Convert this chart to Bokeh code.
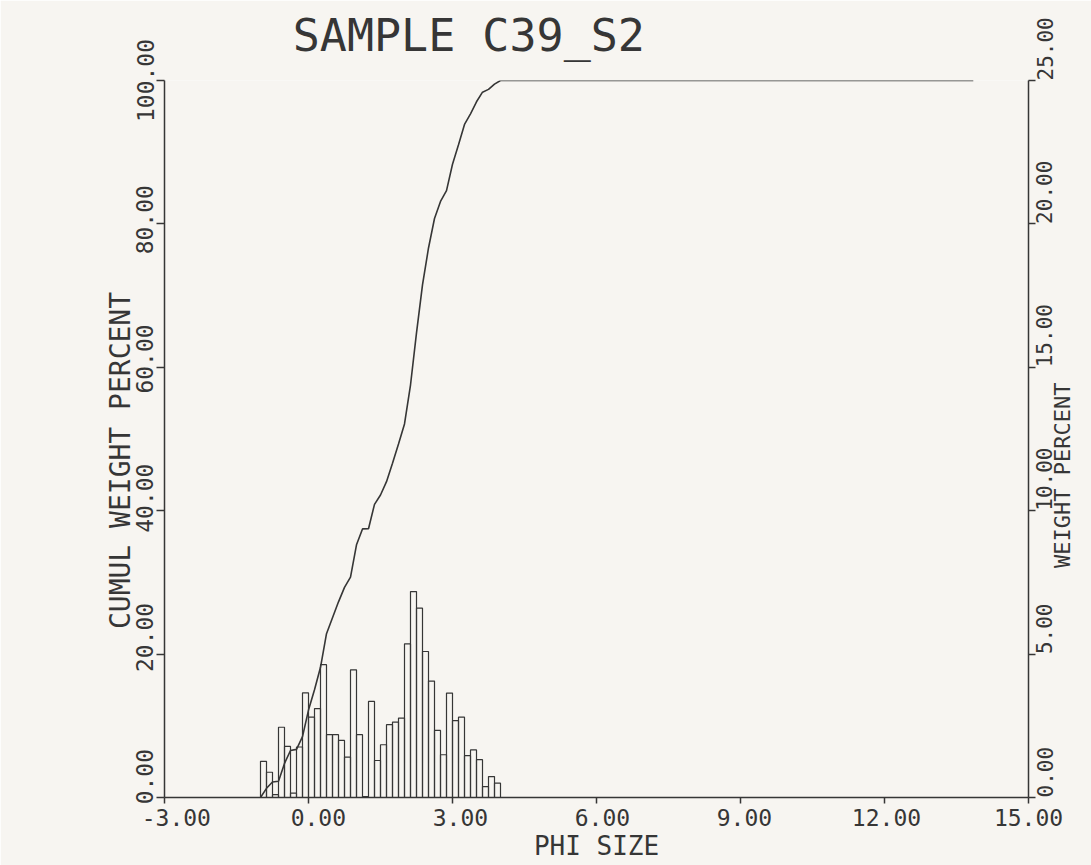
from math import pi
from bokeh.plotting import figure
from bokeh.models import (Range1d, LinearAxis, FixedTicker, CustomJSTickFormatter,
                          PrintfTickFormatter, ColumnDataSource)
from bokeh.embed import file_html
from bokeh.resources import INLINE

# ---------------- data ----------------
phi_edges = [-1.0, -0.875, -0.75, -0.625, -0.5, -0.375, -0.25, -0.125,
             0.0, 0.125, 0.25, 0.375, 0.5, 0.625, 0.75, 0.875,
             1.0, 1.125, 1.25, 1.375, 1.5, 1.625, 1.75, 1.875,
             2.0, 2.125, 2.25, 2.375, 2.5, 2.625, 2.75, 2.875,
             3.0, 3.125, 3.25, 3.375, 3.5, 3.625, 3.75, 3.875, 4.0]

weight_pct = [1.26, 0.88, 0.10, 2.45, 1.78, 0.15, 1.76, 3.65,
              2.80, 3.10, 4.63, 2.19, 2.19, 1.99, 1.41, 4.45,
              2.19, 0.03, 3.35, 1.29, 1.84, 2.54, 2.63, 2.77,
              5.36, 7.18, 6.60, 5.09, 4.06, 2.34, 1.49, 3.64,
              2.68, 2.80, 1.46, 1.66, 1.32, 0.38, 0.73, 0.50]

cumul_phi = phi_edges + [13.85]
cumul_pct = [0.0, 1.28, 2.17, 2.27, 4.75, 6.55, 6.71, 8.49,
             12.19, 15.02, 18.16, 22.85, 25.07, 27.29, 29.31, 30.73,
             35.24, 37.46, 37.49, 40.89, 42.19, 44.05, 46.63, 49.29,
             52.10, 57.53, 64.80, 71.49, 76.64, 80.75, 83.13, 84.64,
             88.32, 91.04, 93.87, 95.35, 97.03, 98.37, 98.76, 99.49,
             100.0, 100.0]

x_ticks = [-3, 0, 3, 6, 9, 12, 15]
cumul_ticks = [0, 20, 40, 60, 80, 100]
weight_ticks = [0, 5, 10, 15, 20, 25]

title_text = "SAMPLE C39_S2"
x_title = "PHI SIZE"
left_title = "CUMUL WEIGHT PERCENT"
right_title = "WEIGHT PERCENT"

# ---------------- style ----------------
INK = "#363636"
PAPER = "#f7f5f1"
FONT = "DejaVu Sans Mono"

TITLE_AT_PHI = 3.34        # where the plotter centred the title
LEFT_TITLE_AT = 47         # along the cumulative scale
RIGHT_TITLE_FROM = 32      # start of the right title, cumulative scale

p = figure(width=1091, height=865,
           x_range=Range1d(-3, 15), y_range=Range1d(0, 100),
           output_backend="svg", toolbar_location=None, title=None,
           min_border_left=164, min_border_right=63,
           min_border_top=80, min_border_bottom=68,
           background_fill_color=PAPER, border_fill_color=PAPER,
           outline_line_color=None)
# weight-percent scale (right); the plotter set its tick labels a little
# off the ticks, so the label-only axes use slightly offset scales
p.extra_y_ranges = {"wt": Range1d(0, 25), "cl": Range1d(-3, 100)}
p.extra_x_ranges = {"xl": Range1d(-3.25, 15)}
p.grid.visible = False

xax = p.below[0]
lax = p.left[0]


def tick_axis(ax, ticks, tick_out, with_labels, font_px=22, standoff=0):
    ax.ticker = FixedTicker(ticks=ticks, minor_ticks=[])
    ax.axis_line_color = INK
    ax.axis_line_width = 1.5
    ax.major_tick_line_color = INK
    ax.major_tick_line_width = 1.5
    ax.major_tick_out = tick_out
    ax.major_tick_in = 0
    ax.minor_tick_line_color = None
    ax.major_label_standoff = standoff
    ax.major_label_text_font = FONT
    ax.major_label_text_color = INK
    if with_labels:
        ax.formatter = PrintfTickFormatter(format="%.2f")
        ax.major_label_text_font_size = f"{font_px}px"
    else:
        ax.formatter = CustomJSTickFormatter(code="return ''")
        ax.major_label_text_font_size = "0px"


def text_axis(ticker_vals, formatter, font_px, standoff, orient, **kw):
    ax = LinearAxis(**kw)
    ax.ticker = FixedTicker(ticks=ticker_vals, minor_ticks=[])
    ax.formatter = formatter
    ax.axis_line_color = None
    ax.major_tick_line_color = None
    ax.major_tick_out = 0
    ax.major_tick_in = 0
    ax.minor_tick_line_color = None
    ax.major_label_standoff = standoff
    ax.major_label_orientation = orient
    ax.major_label_text_font = FONT
    ax.major_label_text_font_size = f"{font_px}px"
    ax.major_label_text_color = INK
    return ax


# bottom axis: ticks, then labels + axis title
tick_axis(xax, x_ticks, 6, False)
xlab = text_axis(x_ticks, PrintfTickFormatter(format="%.2f"), 23, 5,
                 "horizontal", x_range_name="xl")
xlab.axis_label = x_title
xlab.axis_label_text_font = FONT
xlab.axis_label_text_font_size = "26px"
xlab.axis_label_text_font_style = "normal"
xlab.axis_label_text_color = INK
xlab.axis_label_standoff = 2
p.add_layout(xlab, "below")

# title, drawn above the frame
p.add_layout(text_axis([TITLE_AT_PHI], CustomJSTickFormatter(code=f"return '{title_text}'"),
                       45, 19, "horizontal"), "above")

# left axis (cumulative): ticks, then labels, then title
tick_axis(lax, cumul_ticks, 8, False)
p.add_layout(text_axis(cumul_ticks, PrintfTickFormatter(format="%.2f"), 23, 3,
                       "vertical", y_range_name="cl"), "left")
p.add_layout(text_axis([LEFT_TITLE_AT], CustomJSTickFormatter(code=f"return '{left_title}'"),
                       28, -4, "vertical"), "left")

# right axis (weight percent): ticks + labels, then title
rax = LinearAxis(y_range_name="wt")
tick_axis(rax, weight_ticks, 7, True, font_px=21, standoff=9)
rax.major_label_orientation = pi / 2
p.add_layout(rax, "right")
p.add_layout(text_axis([RIGHT_TITLE_FROM], CustomJSTickFormatter(code=f"return '{right_title}'"),
                       22, -1, pi / 2), "right")

# histogram (weight percent, right scale)
src = ColumnDataSource(dict(left=phi_edges[:-1], right=phi_edges[1:], top=weight_pct))
p.quad(left="left", right="right", top="top", bottom=0, source=src,
       y_range_name="wt", fill_color=None, line_color=INK, line_width=1.2)

# cumulative curve (left scale)
p.line(cumul_phi, cumul_pct, line_color=INK, line_width=1.6)

open("out.html", "w").write(file_html(p, INLINE))
